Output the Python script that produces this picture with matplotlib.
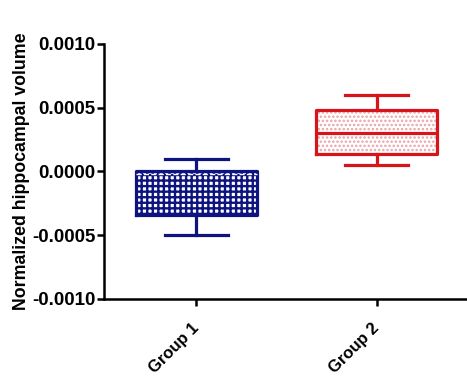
import matplotlib
matplotlib.use("Agg")
import matplotlib.pyplot as plt

plt.rcParams["font.family"] = ["Liberation Sans", "DejaVu Sans"]
plt.rcParams["font.weight"] = "bold"

# values
groups = ["Group 1", "Group 2"]
whislo = [-0.00050, 0.00005]
q1 = [-0.00034, 0.00014]
med = [-0.00002, 0.00030]
q3 = [0.00000, 0.00048]
whishi = [0.00010, 0.00060]
colors = ["#0d1480", "#d7141c"]

stats = []
for i, g in enumerate(groups):
    stats.append(dict(label=g, whislo=whislo[i], q1=q1[i], med=med[i],
                      q3=q3[i], whishi=whishi[i], fliers=[]))

fig = plt.figure(figsize=(4.67, 3.76), dpi=100)
ax = fig.add_axes([0.223, 0.205, 0.777, 0.678])

pos = [1, 2]
lw = 2.3

# fill pass: hatched fills
fill_edges = ["#0d1480", "#e9a3a8"]
hatches = ["+++", "...."]
hatch_lw = [1.7, 1.2]
for i in range(2):
    with plt.rc_context({"hatch.linewidth": hatch_lw[i]}):
        ax.bxp([stats[i]], positions=[pos[i]], widths=0.67, patch_artist=True,
               showcaps=False, showfliers=False,
               boxprops=dict(facecolor="white", edgecolor=fill_edges[i],
                             hatch=hatches[i], linewidth=0),
               whiskerprops=dict(linewidth=0), medianprops=dict(linewidth=0))

# outline pass
for i in range(2):
    c = colors[i]
    ax.bxp([stats[i]], positions=[pos[i]], widths=0.67, capwidths=0.35,
           showfliers=False,
           boxprops=dict(color=c, linewidth=lw),
           whiskerprops=dict(color=c, linewidth=lw),
           capprops=dict(color=c, linewidth=lw),
           medianprops=dict(color=c if i == 1 else "white",
                            linewidth=lw if i == 1 else 1.0,
                            linestyle="-" if i == 1 else "--"))

ax.set_xlim(0.49, 2.5)
ax.set_ylim(-0.001, 0.001)
ax.set_yticks([-0.001, -0.0005, 0, 0.0005, 0.001])
ax.set_yticklabels(["-0.0010", "-0.0005", "0.0000", "0.0005", "0.0010"])
ax.set_xticks(pos)
ax.set_xticklabels(groups, rotation=45, ha="right", va="center",
                   rotation_mode="anchor")

for s in ["top", "right"]:
    ax.spines[s].set_visible(False)
for s in ["left", "bottom"]:
    ax.spines[s].set_linewidth(1.8)
ax.tick_params(axis="both", width=1.8, length=5)
ax.tick_params(axis="y", pad=1, labelsize=13.5)
ax.tick_params(axis="x", pad=14, labelsize=12)
ax.set_ylabel("Normalized hippocampal volume", fontsize=12.8, fontweight="bold",
              labelpad=2)

fig.savefig("out.png", dpi=100)
